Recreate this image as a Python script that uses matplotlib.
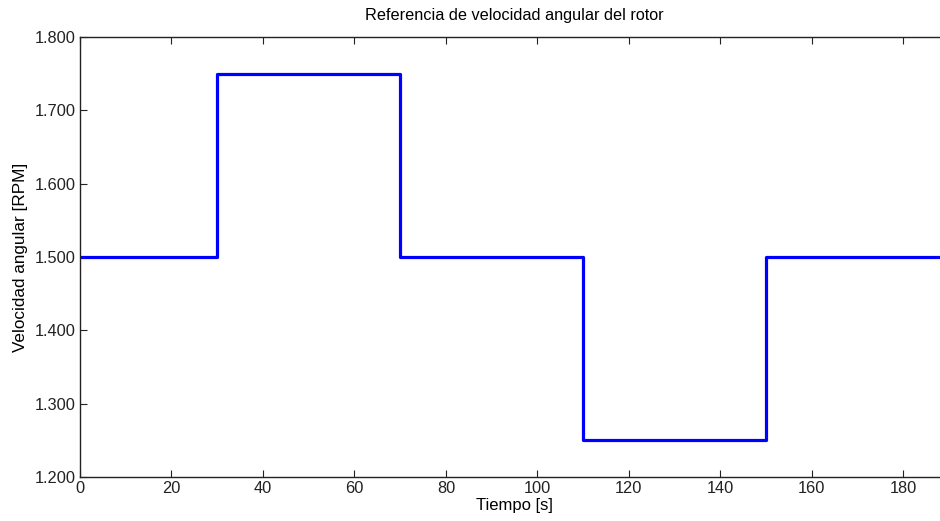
import matplotlib
matplotlib.use("Agg")
import matplotlib.pyplot as plt
from matplotlib.ticker import FuncFormatter

plt.rcParams['font.family'] = ['Liberation Sans', 'DejaVu Sans']

# Datos de la referencia (escalones)
tiempo = [0, 30, 70, 110, 150, 190]
velocidad = [1500, 1750, 1500, 1250, 1500, 1500]

fig = plt.figure(figsize=(9.4, 5.21), dpi=100)
# el eje se sale un poco por la derecha como en la imagen original (recortada)
ax = fig.add_axes([80/940, 1 - 477/521, 869/940, 440/521])

ax.step(tiempo, velocidad, where="post", color=(0, 0, 1), linewidth=2.3)

ax.set_xlim(0, 190)
ax.set_ylim(1200, 1800)
ax.set_xticks(range(0, 181, 20))
ax.set_yticks(range(1200, 1801, 100))

# separador de miles con punto
ax.yaxis.set_major_formatter(FuncFormatter(lambda v, p: f"{int(v):,}".replace(",", ".")))

ax.tick_params(direction="in", top=True, right=True, length=5, width=0.8,
               labelsize=11.8, colors="#222222", pad=3)
for s in ax.spines.values():
    s.set_linewidth(1.0)
    s.set_color("#222222")

ax.set_xlabel("Tiempo [s]", fontsize=12, labelpad=1)
ax.set_ylabel("Velocidad angular [RPM]", fontsize=12.3, labelpad=5)
ax.set_title("Referencia de velocidad angular del rotor", fontsize=11.7, pad=12)

fig.savefig("out.png", dpi=100)
